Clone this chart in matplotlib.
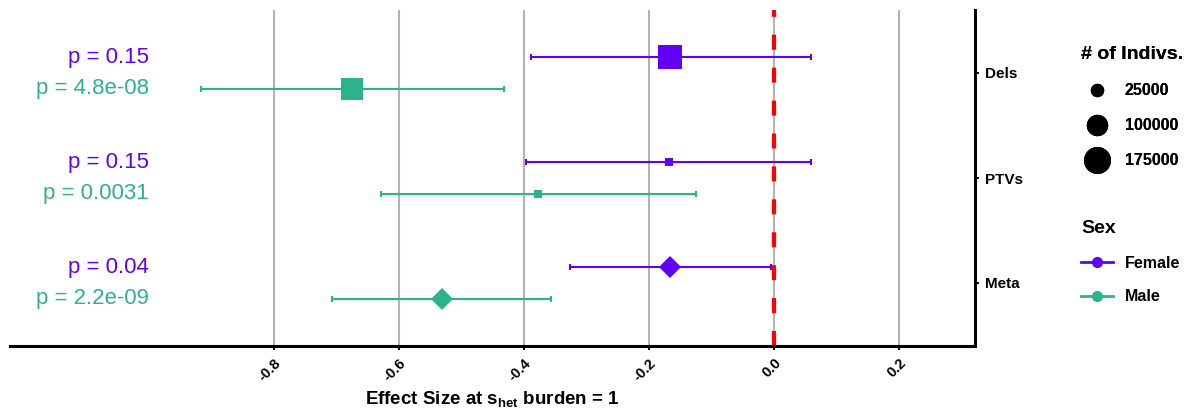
import numpy as np
import matplotlib
matplotlib.use("Agg")
import matplotlib.pyplot as plt
from matplotlib.lines import Line2D

plt.rcParams['font.family'] = ['Liberation Sans', 'DejaVu Sans']
plt.rcParams['mathtext.fontset'] = 'custom'
plt.rcParams['mathtext.rm'] = 'Liberation Sans'
plt.rcParams['mathtext.bf'] = 'Liberation Sans:bold'

# data (y = 1, 2, 3 from bottom)
categories = ["Meta", "PTVs", "Dels"]
female_est = [-0.166, -0.168, -0.166]
female_lo = [-0.326, -0.396, -0.389]
female_hi = [-0.005, 0.060, 0.060]
female_n = [0, 6500, 138000]
male_est = [-0.531, -0.378, -0.675]
male_lo = [-0.707, -0.629, -0.917]
male_hi = [-0.356, -0.125, -0.432]
male_n = [0, 6000, 125000]
female_p = ["p = 0.04", "p = 0.15", "p = 0.15"]
male_p = ["p = 2.2e-09", "p = 0.0031", "p = 4.8e-08"]
legend_sizes = [25000, 100000, 175000]

FEMALE = "#6200F5"
MALE = "#2EB28A"


def size_pt(n):
    # area scale, like ggplot's scale_size
    return np.sqrt(58.7 + 0.003413 * n) * 0.72


fig = plt.figure(figsize=(11.9, 4.15), dpi=100)
ax = fig.add_axes([10 / 1190, 1 - 346 / 415, 965 / 1190, 336 / 415])

dodge = 0.15
rows = [(female_est, female_lo, female_hi, female_n, female_p, FEMALE, dodge),
        (male_est, male_lo, male_hi, male_n, male_p, MALE, -dodge)]
for est, lo, hi, n, pv, col, dy in rows:
    for i, cat in enumerate(categories):
        y = i + 1 + dy
        ax.errorbar(est[i], y, xerr=[[est[i] - lo[i]], [hi[i] - est[i]]],
                    fmt='none', ecolor=col, elinewidth=1.5, capsize=2,
                    capthick=1.5, zorder=3)
        if cat == "Meta":
            ax.plot(est[i], y, marker='D', ms=11.2, color=col, mew=0, zorder=4)
        else:
            ax.plot(est[i], y, marker='s', ms=size_pt(n[i]), color=col,
                    mew=0, zorder=4)
        ax.text(-1.0, y, pv[i], color=col, fontsize=16, ha='right',
                va='center')

ax.axvline(0, color='red', lw=3, dashes=(3.6, 4.3), zorder=2.5)

ax.set_xlim(-1.222, 0.3216)
ax.set_ylim(0.4, 3.6)
ax.set_xticks([-0.8, -0.6, -0.4, -0.2, 0.0, 0.2])
ax.set_xticklabels(["-0.8", "-0.6", "-0.4", "-0.2", "0.0", "0.2"],
                   rotation=45, ha='right', va='top', rotation_mode='anchor',
                   fontweight='bold', fontsize=10.5)
ax.set_yticks([1, 2, 3])
ax.set_yticklabels(categories, fontweight='bold', fontsize=11)
ax.yaxis.tick_right()
ax.xaxis.grid(True, color='#b3b3b3', lw=1.5)
ax.set_axisbelow(True)
ax.tick_params(axis='both', length=3, width=1.5, color='black')
ax.tick_params(axis='x', pad=4)
ax.tick_params(axis='y', pad=4)
for s in ['top', 'left']:
    ax.spines[s].set_visible(False)
for s in ['bottom', 'right']:
    ax.spines[s].set_linewidth(2.2)
ax.set_xlabel(r"Effect Size at $\mathbf{s_{het}}$ burden = 1",
              fontweight='bold', fontsize=13.5, labelpad=4)

# size legend
size_handles = [Line2D([], [], marker='o', color='black', ls='',
                       ms=size_pt(v)) for v in legend_sizes]
leg1 = fig.legend(size_handles, [str(v) for v in legend_sizes],
                  title="# of Indivs.", loc='upper left',
                  bbox_to_anchor=(1067 / 1190, 1 - 32 / 415), frameon=False,
                  prop={'weight': 'bold', 'size': 11.5},
                  title_fontproperties={'weight': 'bold', 'size': 14},
                  alignment='left', labelspacing=1.25, handletextpad=0.7)
fig.add_artist(leg1)

sex_handles = [Line2D([], [], marker='o', color=FEMALE, lw=2, ms=7),
               Line2D([], [], marker='o', color=MALE, lw=2, ms=7)]
fig.legend(sex_handles, ["Female", "Male"], title="Sex", loc='upper left',
           bbox_to_anchor=(1067 / 1190, 1 - 206 / 415), frameon=False,
           prop={'weight': 'bold', 'size': 11.5},
           title_fontproperties={'weight': 'bold', 'size': 14},
           alignment='left', labelspacing=1.15, handlelength=2.0,
           handletextpad=0.7)

fig.savefig("out.png", dpi=100)
